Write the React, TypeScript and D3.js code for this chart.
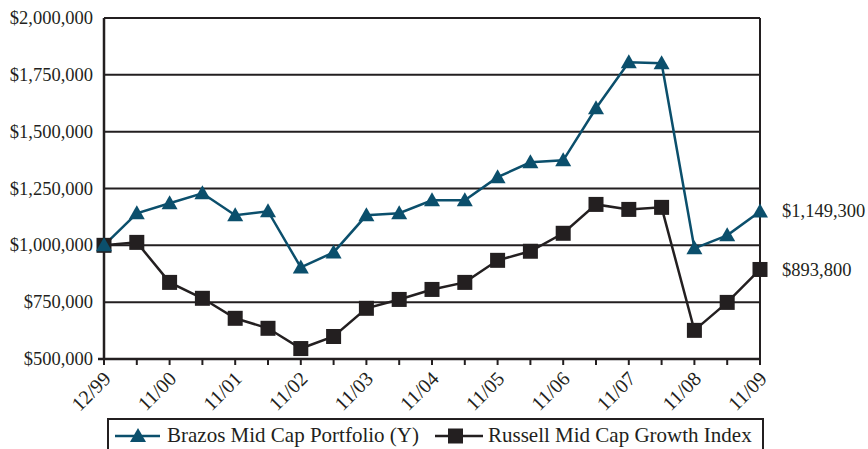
import React from "react";
import * as d3 from "d3";

const dates = ["12/99","5/00","11/00","5/01","11/01","5/02","11/02","5/03","11/03","5/04","11/04","5/05","11/05","5/06","11/06","5/07","11/07","5/08","11/08","5/09","11/09"];
const tickLabels = ["12/99","11/00","11/01","11/02","11/03","11/04","11/05","11/06","11/07","11/08","11/09"];
const brazos = [1000000,1141000,1185000,1229000,1132000,1150000,903000,969000,1132000,1141000,1198000,1198000,1300000,1365000,1374000,1603000,1805000,1801000,987000,1044000,1149300];
const russell = [1000000,1013000,837000,767000,679000,635000,546000,599000,723000,762000,806000,837000,934000,974000,1053000,1180000,1158000,1167000,626000,749000,893800];
const yTicks = [500000,750000,1000000,1250000,1500000,1750000,2000000];
const seriesNames = ["Brazos Mid Cap Portfolio (Y)", "Russell Mid Cap Growth Index"];

const BLUE = "#0b4f6c";
const BLACK = "#231f20";
const FONT = "'Liberation Serif', 'Times New Roman', serif";

export default function App() {
  const W = 868, H = 449;
  const left = 104, right = 760, top = 18, bottom = 359;
  const x = d3.scaleLinear().domain([0, dates.length - 1]).range([left, right]);
  const y = d3.scaleLinear().domain([500000, 2000000]).range([bottom, top]);
  const line = d3.line<number>().x((_, i) => x(i)).y((d) => y(d));
  const fmt = (v: number) => "$" + d3.format(",")(v);
  const tri = (cx: number, cy: number, s = 8) =>
    `M${cx},${cy - s} L${cx + s},${cy + s * 0.75} L${cx - s},${cy + s * 0.75} Z`;

  return (
    <svg width={W} height={H} style={{ position: "absolute", left: 0, top: 0 }} fontFamily={FONT}>
      {yTicks.map((t) => (
        <g key={t}>
          <line x1={left} x2={right} y1={y(t)} y2={y(t)} stroke={BLACK} strokeWidth={2} />
          <text x={left - 11} y={y(t)} dy="0.33em" textAnchor="end" fontSize={18.5} fill={BLACK}>{fmt(t)}</text>
        </g>
      ))}
      <line x1={left} x2={left} y1={top} y2={bottom + 1} stroke={BLACK} strokeWidth={2.5} />
      <line x1={right} x2={right} y1={top} y2={bottom + 1} stroke={BLACK} strokeWidth={2} />
      <line x1={left - 6} x2={right} y1={bottom} y2={bottom} stroke={BLACK} strokeWidth={2.5} />
      {dates.map((d, i) => (
        <line key={d} x1={x(i)} x2={x(i)} y1={bottom} y2={bottom + 6} stroke={BLACK} strokeWidth={2} />
      ))}
      {dates.map((d, i) =>
        tickLabels.includes(d) ? (
          <text key={"l" + d} transform={`translate(${x(i) + 8},${bottom + 21}) rotate(-45)`} textAnchor="end" fontSize={20} fill={BLACK}>{d}</text>
        ) : null
      )}
      <path d={line(russell) || ""} fill="none" stroke={BLACK} strokeWidth={2.5} />
      <path d={line(brazos) || ""} fill="none" stroke={BLUE} strokeWidth={2.5} />
      {russell.map((v, i) => (
        <rect key={"r" + i} x={x(i) - 7.5} y={y(v) - 7.5} width={15} height={15} fill={BLACK} />
      ))}
      {brazos.map((v, i) => (
        <path key={"b" + i} d={tri(x(i), y(v))} fill={BLUE} />
      ))}
      <text x={782} y={y(brazos[brazos.length - 1])} dy="0.33em" fontSize={18.5} fill={BLACK}>{fmt(brazos[brazos.length - 1])}</text>
      <text x={782} y={y(russell[russell.length - 1])} dy="0.33em" fontSize={18.5} fill={BLACK}>{fmt(russell[russell.length - 1])}</text>
      <rect x={108} y={419} width={655} height={40} fill="none" stroke={BLACK} strokeWidth={2} />
      <line x1={115} x2={160} y1={436} y2={436} stroke={BLUE} strokeWidth={2.5} />
      <path d={tri(138, 436)} fill={BLUE} />
      <text x={167} y={442} fontSize={21} fill={BLACK}>{seriesNames[0]}</text>
      <line x1={435} x2={483} y1={436} y2={436} stroke={BLACK} strokeWidth={2.5} />
      <rect x={448} y={428.5} width={15} height={15} fill={BLACK} />
      <text x={488} y={442} fontSize={21} fill={BLACK}>{seriesNames[1]}</text>
    </svg>
  );
}
